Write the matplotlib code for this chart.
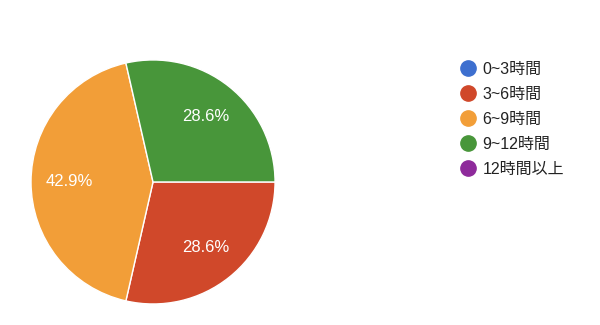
import matplotlib
matplotlib.use("Agg")
import matplotlib.pyplot as plt
from matplotlib.lines import Line2D

plt.rcParams['font.family'] = ['Liberation Sans', 'Noto Sans CJK JP', 'DejaVu Sans']

categories = ["0~3時間", "3~6時間", "6~9時間", "9~12時間", "12時間以上"]
counts = [0, 2, 3, 2, 0]
colors = ["#3d6fcf", "#d0482a", "#f29e38", "#48963a", "#8e2a9b"]

fig = plt.figure(figsize=(6, 3.25), dpi=100)
ax = fig.add_axes([0.0517, 0.0646, 0.4067, 0.751])

# only non-zero slices are drawn
vals = [v for v in counts if v > 0]
cols = [c for v, c in zip(counts, colors) if v > 0]
wedges, texts, autotexts = ax.pie(
    vals, colors=cols, startangle=0, counterclock=False,
    autopct="%1.1f%%", pctdistance=0.69,
    wedgeprops=dict(edgecolor="white", linewidth=1),
    textprops=dict(color="white", fontsize=12))
ax.set_xlim(-1, 1)
ax.set_ylim(-1, 1)
ax.set_aspect("equal")

handles = [Line2D([], [], marker="o", linestyle="none", markersize=11,
                  markerfacecolor=c, markeredgecolor=c) for c in colors]
fig.legend(handles, categories, loc="upper left", bbox_to_anchor=(0.743, 0.83),
           frameon=False, fontsize=11.5, labelcolor="#222222",
           handletextpad=-0.1, labelspacing=0.63, borderaxespad=0)

fig.savefig("out.png", dpi=100)
